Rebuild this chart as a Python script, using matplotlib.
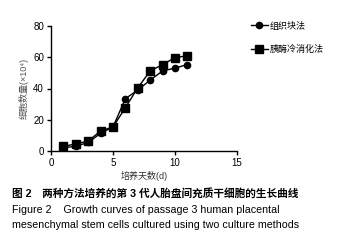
import matplotlib
matplotlib.use("Agg")
import matplotlib.pyplot as plt

plt.rcParams['font.family'] = ['Liberation Sans', 'Noto Sans CJK SC', 'DejaVu Sans']

days = [1, 2, 3, 4, 5, 6, 7, 8, 9, 10, 11]
tissue = [2.1, 3.0, 5.5, 11.3, 15.4, 33.5, 39.0, 45.4, 51.2, 53.1, 55.3]
enzyme = [3.0, 4.5, 6.4, 12.8, 15.4, 27.7, 40.5, 51.2, 55.3, 59.7, 61.0]
labels = ['组织块法', '胰酶冷消化法']
xticks = [0, 5, 10, 15]
yticks = [0, 20, 40, 60, 80]

W, H = 349, 246
fig = plt.figure(figsize=(W / 100, H / 100), dpi=100)
ax = fig.add_axes([51 / W, 1 - 151 / H, (237 - 51) / W, (151 - 26) / H])

l1, = ax.plot(days, tissue, color='black', lw=1.0, marker='o', ms=4.5, label=labels[0])
l2, = ax.plot(days, enzyme, color='black', lw=1.0, marker='s', ms=5.5, label=labels[1])

ax.set_xlim(0, 15)
ax.set_ylim(0, 80)
ax.set_xticks(xticks)
ax.set_yticks(yticks)
for s in ['top', 'right']:
    ax.spines[s].set_visible(False)
for s in ['left', 'bottom']:
    ax.spines[s].set_linewidth(1.0)
ax.tick_params(direction='out', length=3, width=1.0, labelsize=7, pad=2)
ax.set_xlabel('培养天数(d)', fontsize=6.5, labelpad=2, color='#333333')
ax.set_ylabel('细胞数量(×10⁴)', fontsize=6.5, labelpad=3, color='#555555')

fig.legend(handles=[l1, l2], loc='upper left', bbox_to_anchor=(247 / W, 1 - 18 / H),
           frameon=False, fontsize=6.5, handlelength=1.9, handletextpad=0.2,
           labelspacing=1.6, borderaxespad=0)

fig.text(12 / W, 1 - 193 / H, '图 2　两种方法培养的第 3 代人胎盘间充质干细胞的生长曲线',
         fontsize=7.7, fontweight='bold', va='center', ha='left')
fig.text(12 / W, 1 - 210 / H, 'Figure 2    Growth curves of passage 3 human placental',
         fontsize=7.7, va='center', ha='left')
fig.text(12 / W, 1 - 225 / H, 'mesenchymal stem cells cultured using two culture methods',
         fontsize=7.7, va='center', ha='left')

fig.savefig('out.png', dpi=100)
